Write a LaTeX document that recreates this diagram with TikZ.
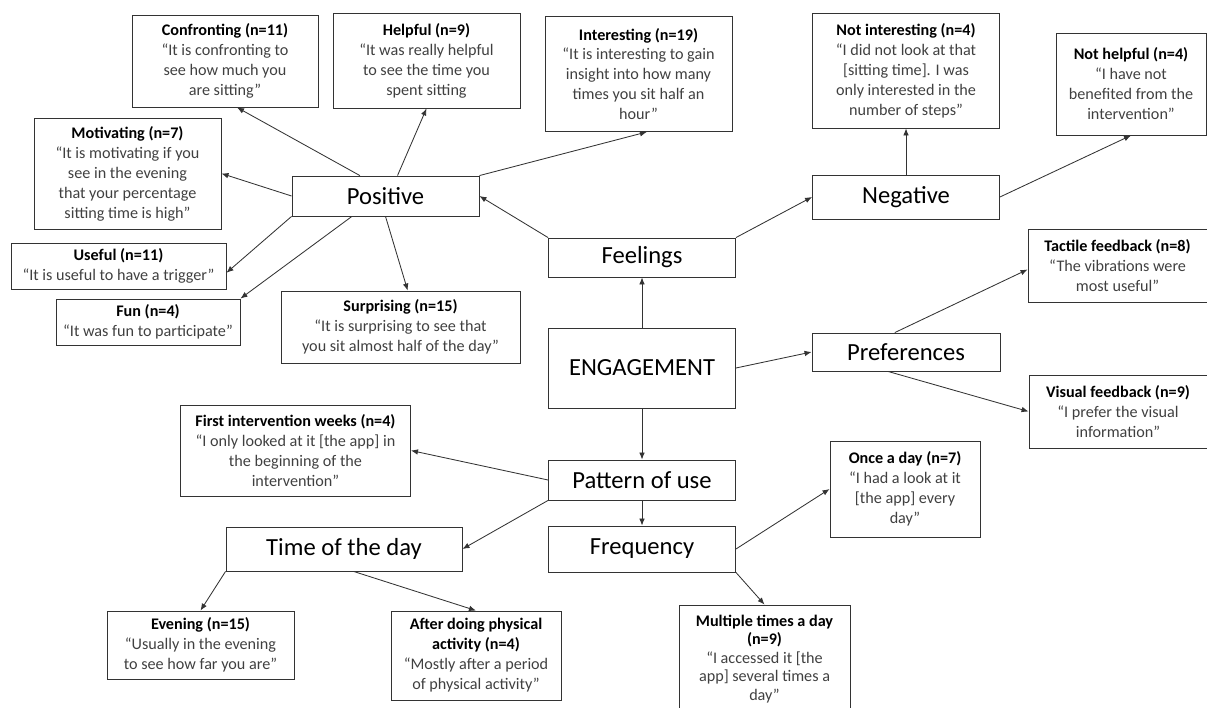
\documentclass[tikz,border=0pt]{standalone}
\usepackage{fontspec}
\setmainfont{Carlito}
\usepackage{xcolor}
\usetikzlibrary{arrows.meta}

\newcommand{\ctitle}[1]{{\color{black}\bfseries #1}}

\begin{document}
\begin{tikzpicture}[
  x=0.025cm, y=-0.025cm,
  qbox/.style={draw=black!80,line width=0.6pt,align=center,inner sep=2pt,text=black!75,font=\fontsize{11.5}{14.2}\selectfont},
  cbox/.style={draw=black!80,line width=0.6pt,align=center,inner sep=2pt,text=black,font=\fontsize{17.5}{21}\selectfont},
  link/.style={draw=black!80,line width=0.6pt,-{Latex[length=5pt,width=4pt]}}
]
  \useasboundingbox (0,0) rectangle (1207,708);
  \node[cbox,minimum width=4.675cm,minimum height=2.0cm] (eng) at (642,368) {ENGAGEMENT};
  \node[cbox,minimum width=4.675cm,minimum height=0.975cm] (feel) at (642,257.5) {Feelings};
  \node[cbox,minimum width=4.675cm,minimum height=1.0cm] (pos) at (385.5,196) {Positive};
  \node[cbox,minimum width=4.675cm,minimum height=1.1cm] (neg) at (906,197) {Negative};
  \node[cbox,minimum width=4.7cm,minimum height=0.95cm] (pref) at (906,352) {Preferences};
  \node[cbox,minimum width=4.675cm,minimum height=1.0cm] (pat) at (642,480) {Pattern of use};
  \node[cbox,minimum width=4.675cm,minimum height=1.15cm] (freq) at (642,549) {Frequency};
  \node[cbox,minimum width=5.9cm,minimum height=1.1cm] (tod) at (344,549) {Time of the day};
  \node[qbox,minimum width=4.65cm,minimum height=2.3cm] (conf) at (225,61) {\ctitle{Confronting (n=11)}\\“It is confronting to\\see how much you\\are sitting”};
  \node[qbox,minimum width=4.675cm,minimum height=2.375cm] (help) at (426.5,60.5) {\ctitle{Helpful (n=9)}\\“It was really helpful\\to see the time you\\spent sitting};
  \node[qbox,minimum width=4.675cm,minimum height=2.875cm] (intr) at (638.5,74) {\ctitle{Interesting (n=19)}\\“It is interesting to gain\\insight into how many\\times you sit half an\\hour”};
  \node[qbox,minimum width=4.675cm,minimum height=2.875cm] (nint) at (906,70.5) {\ctitle{Not interesting (n=4)}\\“I did not look at that\\{[sitting time]}. I was\\only interested in the\\number of steps”};
  \node[qbox,minimum width=3.75cm,minimum height=2.55cm] (nhel) at (1131,84) {\ctitle{Not helpful (n=4)}\\“I have not\\benefited from the\\intervention”};
  \node[qbox,minimum width=4.675cm,minimum height=2.775cm] (moti) at (127.5,173.5) {\ctitle{Motivating (n=7)}\\“It is motivating if you\\see in the evening\\that your percentage\\sitting time is high”};
  \node[qbox,minimum width=5.375cm,minimum height=1.15cm] (usef) at (118.5,266) {\ctitle{Useful (n=11)}\\“It is useful to have a trigger”};
  \node[qbox,minimum width=4.6cm,minimum height=1.15cm] (fun) at (148,322) {\ctitle{Fun (n=4)}\\“It was fun to participate”};
  \node[qbox,minimum width=5.975cm,minimum height=1.8cm] (surp) at (400.5,327) {\ctitle{Surprising (n=15)}\\“It is surprising to see that\\you sit almost half of the day”};
  \node[qbox,minimum width=4.475cm,minimum height=1.825cm] (tact) at (1117.5,265.5) {\ctitle{Tactile feedback (n=8)}\\“The vibrations were\\most useful”};
  \node[qbox,minimum width=4.45cm,minimum height=1.825cm] (vis) at (1118,411.5) {\ctitle{Visual feedback (n=9)}\\“I prefer the visual\\information”};
  \node[qbox,minimum width=5.75cm,minimum height=2.275cm] (first) at (295.5,450.5) {\ctitle{First intervention weeks (n=4)}\\“I only looked at it [the app] in\\the beginning of the\\intervention”};
  \node[qbox,minimum width=3.75cm,minimum height=2.4cm] (once) at (905,489) {\ctitle{Once a day (n=7)}\\“I had a look at it\\{[the app]} every\\day”};
  \node[qbox,minimum width=4.675cm,minimum height=1.7cm] (eve) at (200.5,645) {\ctitle{Evening (n=15)}\\“Usually in the evening\\to see how far you are”};
  \node[qbox,minimum width=4.25cm,minimum height=2.225cm] (aft) at (476,655.5) {\ctitle{After doing physical}\\\ctitle{activity (n=4)}\\“Mostly after a period\\of physical activity”};
  \node[qbox,font=\fontsize{11.5}{13.2}\selectfont,minimum width=4.275cm,minimum height=2.7cm] (mult) at (764.5,659) {\ctitle{Multiple times a day}\\\ctitle{(n=9)}\\“I accessed it [the\\app] several times a\\day”};
  \draw[link] (eng.north) -- (feel.south);
  \draw[link] (feel.north west) -- (pos.east);
  \draw[link] (feel.north east) -- (neg.west);
  \draw[link] ([xshift=-0.64cm]pos.north) -- ([xshift=0.3cm]conf.south);
  \draw[link] ([xshift=0.3cm]pos.north) -- (help.south);
  \draw[link] (pos.north east) -- ([xshift=0.21cm]intr.south);
  \draw[link] (pos.west) -- (moti.east);
  \draw[link] (pos.south west) -- ([yshift=-0.17cm]usef.east);
  \draw[link] ([xshift=-0.84cm]pos.south) -- (fun.north east);
  \draw[link] (pos.south) -- ([xshift=0.18cm]surp.north);
  \draw[link] (neg.north) -- (nint.south);
  \draw[link] (neg.east) -- (nhel.south);
  \draw[link] (eng.east) -- (pref.west);
  \draw[link] ([xshift=-0.28cm]pref.north) -- ([yshift=-0.1cm]tact.west);
  \draw[link] ([xshift=-0.45cm]pref.south) -- (vis.west);
  \draw[link] (eng.south) -- (pat.north);
  \draw[link] (pat.west) -- (first.east);
  \draw[link] (pat.south west) -- (tod.east);
  \draw[link] (pat.south) -- (freq.north);
  \draw[link] (freq.east) -- (once.west);
  \draw[link] (freq.south east) -- (mult.north);
  \draw[link] (tod.south west) -- (eve.north);
  \draw[link] ([xshift=0.24cm]tod.south) -- (aft.north);
\end{tikzpicture}
\end{document}
